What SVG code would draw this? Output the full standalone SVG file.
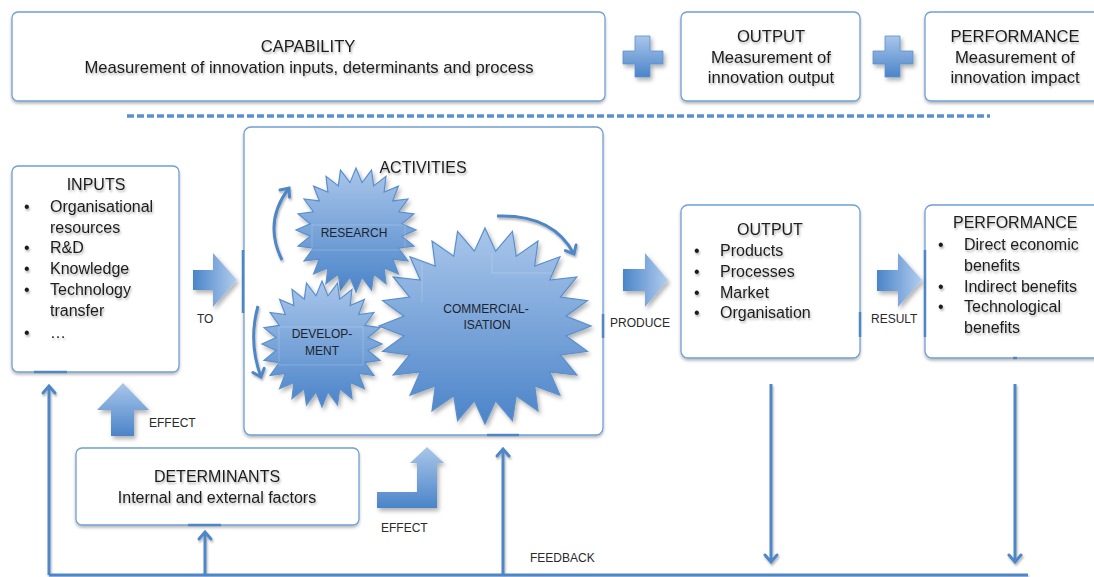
<svg xmlns="http://www.w3.org/2000/svg" xmlns:xlink="http://www.w3.org/1999/xlink" width="1094" height="577" viewBox="0 0 1094 577">
  <defs>
    <style>
      .box { fill: #ffffff; stroke: #6f9fd6; stroke-width: 1.3; }
      .t { font-family: "Liberation Sans", Arial, Helvetica, sans-serif; fill: #1e1e1e; }
      .h { font-size: 16px; }
      .ht { font-size: 16.6px; }
      .lbl { font-family: "Liberation Sans", Arial, Helvetica, sans-serif; font-size: 12px; fill: #2a2a2a; }
      .star-lbl { font-family: "Liberation Sans", Arial, Helvetica, sans-serif; font-size: 12px; fill: #1c2430; }
      .mid { text-anchor: middle; }
      .wire { fill: none; stroke: #4f86c6; stroke-width: 3; }
      .port { stroke: #4f86c6; stroke-width: 2.5; }
      .frame { fill: none; stroke: #ffffff; stroke-opacity: 0.2; stroke-width: 1; }
    </style>
    <filter id="boxShadow" x="-5%" y="-10%" width="110%" height="125%">
      <feDropShadow dx="0" dy="2" stdDeviation="1.5" flood-color="#000" flood-opacity="0.28"/>
    </filter>
    <filter id="textShadow" x="-5%" y="-30%" width="110%" height="170%">
      <feDropShadow dx="1" dy="2" stdDeviation="1.2" flood-color="#000" flood-opacity="0.3"/>
    </filter>
    <filter id="shapeShadow" x="-15%" y="-15%" width="135%" height="135%">
      <feDropShadow dx="2" dy="3" stdDeviation="2" flood-color="#000" flood-opacity="0.3"/>
    </filter>
    <linearGradient id="gradV" x1="0" y1="0" x2="0" y2="1">
      <stop offset="0" stop-color="#a9c6ea"/>
      <stop offset="1" stop-color="#4b84c9"/>
    </linearGradient>
    <linearGradient id="gradH" x1="0" y1="0" x2="1" y2="0">
      <stop offset="0" stop-color="#4a84c9"/>
      <stop offset="1" stop-color="#b2cdee"/>
    </linearGradient>
    <marker id="chev" viewBox="-10 -10 20 20" markerWidth="20" markerHeight="20" refX="0" refY="0" markerUnits="userSpaceOnUse" orient="auto" overflow="visible">
      <path d="M-7,-6 L0,0 L-7,6" fill="none" stroke="#4f86c6" stroke-width="3" stroke-linecap="round" stroke-linejoin="miter"/>
    </marker>
    <!-- 24-point star, outer radius 100, inner radius 77 -->
    <polygon id="star24" points="0,-100 10.05,-76.34 25.88,-96.59 29.47,-71.14 50,-86.6 46.87,-61.09 70.71,-70.71 61.09,-46.87 86.6,-50 71.14,-29.47 96.59,-25.88 76.34,-10.05 100,0 76.34,10.05 96.59,25.88 71.14,29.47 86.6,50 61.09,46.87 70.71,70.71 46.87,61.09 50,86.6 29.47,71.14 25.88,96.59 10.05,76.34 0,100 -10.05,76.34 -25.88,96.59 -29.47,71.14 -50,86.6 -46.87,61.09 -70.71,70.71 -61.09,46.87 -86.6,50 -71.14,29.47 -96.59,25.88 -76.34,10.05 -100,0 -76.34,-10.05 -96.59,-25.88 -71.14,-29.47 -86.6,-50 -61.09,-46.87 -70.71,-70.71 -46.87,-61.09 -50,-86.6 -29.47,-71.14 -25.88,-96.59 -10.05,-76.34" fill="url(#gradV)" stroke="#5a8fcd" stroke-width="1.2" vector-effect="non-scaling-stroke"/>
  </defs>

  <rect width="1094" height="577" fill="#ffffff"/>

  <!-- top row: measurement levels -->
  <g id="capability">
    <rect class="box" x="12" y="12" width="593" height="89" rx="6" filter="url(#boxShadow)"/>
    <g filter="url(#textShadow)">
      <text class="t ht mid" x="308" y="52">CAPABILITY</text>
      <text class="t ht mid" x="309" y="73">Measurement of innovation inputs, determinants and process</text>
    </g>
  </g>

  <g id="plus1" filter="url(#shapeShadow)">
    <path d="M635,36 H650 V51 H663 V64 H650 V77 H635 V64 H623 V51 H635 Z" fill="url(#gradV)" stroke="#5a8fcd" stroke-width="0.8"/>
  </g>

  <g id="output-measure">
    <rect class="box" x="681" y="12" width="179" height="89" rx="6" filter="url(#boxShadow)"/>
    <g filter="url(#textShadow)">
      <text class="t ht mid" x="771" y="42">OUTPUT</text>
      <text class="t ht mid" x="771" y="63">Measurement of</text>
      <text class="t ht mid" x="771" y="83">innovation output</text>
    </g>
  </g>

  <g id="plus2" filter="url(#shapeShadow)">
    <path d="M885,36 H900 V51 H913 V64 H900 V77 H885 V64 H873 V51 H885 Z" fill="url(#gradV)" stroke="#5a8fcd" stroke-width="0.8"/>
  </g>

  <g id="performance-measure">
    <rect class="box" x="925" y="12" width="200" height="89" rx="6" filter="url(#boxShadow)"/>
    <g filter="url(#textShadow)">
      <text class="t ht mid" x="1015" y="42">PERFORMANCE</text>
      <text class="t ht mid" x="1015" y="63">Measurement of</text>
      <text class="t ht mid" x="1015" y="83">innovation impact</text>
    </g>
  </g>

  <g id="divider">
    <line x1="127" y1="116" x2="990" y2="116" stroke="#5b90d0" stroke-width="3.5" stroke-dasharray="7 3"/>
  </g>

  <!-- process row -->
  <g id="inputs">
    <rect class="box" x="12" y="166" width="167" height="206" rx="6" filter="url(#boxShadow)"/>
    <g filter="url(#textShadow)">
      <text class="t h mid" x="96" y="190">INPUTS</text>
      <text class="t h" x="24" y="212">•</text>
      <text class="t h" x="50" y="212">Organisational</text>
      <text class="t h" x="50" y="233">resources</text>
      <text class="t h" x="24" y="253">•</text>
      <text class="t h" x="50" y="253">R&amp;D</text>
      <text class="t h" x="24" y="274">•</text>
      <text class="t h" x="50" y="274">Knowledge</text>
      <text class="t h" x="24" y="295">•</text>
      <text class="t h" x="50" y="295">Technology</text>
      <text class="t h" x="50" y="316">transfer</text>
      <text class="t h" x="24" y="338">•</text>
      <text class="t h" x="50" y="338">…</text>
    </g>
  </g>

  <g id="activities">
    <rect class="box" x="244" y="127" width="359" height="308" rx="7" filter="url(#boxShadow)"/>
    <text class="t h mid" x="423" y="173" filter="url(#textShadow)">ACTIVITIES</text>
    <g id="commercialisation">
      <g filter="url(#shapeShadow)">
        <use xlink:href="#star24" href="#star24" transform="translate(485 326) scale(1.06 0.98)"/>
      </g>
      <path class="frame" d="M422,263 V302 M492,253 V273 H552"/>
      <text class="star-lbl mid" x="486" y="313">COMMERCIAL-</text>
      <text class="star-lbl mid" x="487" y="329">ISATION</text>
    </g>
    <g id="research">
      <g filter="url(#shapeShadow)">
        <use xlink:href="#star24" href="#star24" transform="translate(356 230) scale(0.6 0.62)"/>
      </g>
      <rect class="frame" x="312" y="225" width="93" height="25"/>
      <text class="star-lbl mid" x="354" y="237">RESEARCH</text>
    </g>
    <g id="development">
      <g filter="url(#shapeShadow)">
        <use xlink:href="#star24" href="#star24" transform="translate(322 344) scale(0.6 0.63)"/>
      </g>
      <rect class="frame" x="279" y="327" width="84" height="38"/>
      <text class="star-lbl mid" x="322" y="338">DEVELOP-</text>
      <text class="star-lbl mid" x="322" y="355">MENT</text>
    </g>
    <g id="cycle-arrows" filter="url(#textShadow)">
      <path class="wire" d="M282,260 Q263,222 289,188" marker-end="url(#chev)"/>
      <path class="wire" d="M258,306 Q248,342 261,377" marker-end="url(#chev)"/>
      <path class="wire" d="M497,216 Q553,214 574,254" marker-end="url(#chev)"/>
    </g>
  </g>

  <g id="output">
    <rect class="box" x="681" y="205" width="179" height="153" rx="7" filter="url(#boxShadow)"/>
    <g filter="url(#textShadow)">
      <text class="t h mid" x="770" y="235">OUTPUT</text>
      <text class="t h" x="694" y="256">•</text>
      <text class="t h" x="720" y="256">Products</text>
      <text class="t h" x="694" y="277">•</text>
      <text class="t h" x="720" y="277">Processes</text>
      <text class="t h" x="694" y="298">•</text>
      <text class="t h" x="720" y="298">Market</text>
      <text class="t h" x="694" y="318">•</text>
      <text class="t h" x="720" y="318">Organisation</text>
    </g>
  </g>

  <g id="performance">
    <rect class="box" x="925" y="205" width="200" height="153" rx="7" filter="url(#boxShadow)"/>
    <g filter="url(#textShadow)">
      <text class="t h" x="953" y="228">PERFORMANCE</text>
      <text class="t h" x="938" y="250">•</text>
      <text class="t h" x="964" y="250">Direct economic</text>
      <text class="t h" x="964" y="271">benefits</text>
      <text class="t h" x="938" y="292">•</text>
      <text class="t h" x="964" y="292">Indirect benefits</text>
      <text class="t h" x="938" y="312">•</text>
      <text class="t h" x="964" y="312">Technological</text>
      <text class="t h" x="964" y="333">benefits</text>
    </g>
  </g>

  <g id="determinants">
    <rect class="box" x="76" y="448" width="283" height="77" rx="6" filter="url(#boxShadow)"/>
    <g filter="url(#textShadow)">
      <text class="t h mid" x="217" y="482">DETERMINANTS</text>
      <text class="t h mid" x="217" y="503">Internal and external factors</text>
    </g>
  </g>

  <!-- connectors -->
  <g id="connectors">
    <!-- block arrows -->
    <g filter="url(#shapeShadow)">
      <path d="M193,270 H213 V253 L237,280 L213,307 V290 H193 Z" fill="url(#gradH)"/>
      <path d="M623,269 H645 V253 L668,280 L645,307 V291 H623 Z" fill="url(#gradH)"/>
      <path d="M877,270 H898 V253 L922,280 L898,307 V291 H877 Z" fill="url(#gradH)"/>
      <path d="M111,436 V410 H97 L123,383 L149,410 H134 V436 Z" fill="url(#gradV)"/>
      <path d="M377,492 H417 V463 H410 L427,447 L444,463 H437 V508 H377 Z" fill="url(#gradV)"/>
    </g>
    <text class="lbl" x="197" y="323">TO</text>
    <text class="lbl" x="610" y="327">PRODUCE</text>
    <text class="lbl" x="871" y="323">RESULT</text>
    <text class="lbl" x="149" y="427">EFFECT</text>
    <text class="lbl" x="381" y="532">EFFECT</text>
    <text class="lbl" x="530" y="562">FEEDBACK</text>

    <!-- feedback loop -->
    <g filter="url(#textShadow)">
      <path class="wire" d="M49,575 H1028"/>
      <path class="wire" d="M49,575 V386" marker-end="url(#chev)"/>
      <path class="wire" d="M205,575 V532" marker-end="url(#chev)"/>
      <path class="wire" d="M503,575 V449" marker-end="url(#chev)"/>
      <path class="wire" d="M771,384 V562" marker-end="url(#chev)"/>
      <path class="wire" d="M1015,384 V562" marker-end="url(#chev)"/>
    </g>

    <!-- attachment points on box edges -->
    <line class="port" x1="34" y1="372" x2="67" y2="372"/>
    <line class="port" x1="243" y1="250" x2="243" y2="313"/>
    <line class="port" x1="487" y1="435" x2="519" y2="435"/>
    <line class="port" x1="603" y1="314" x2="603" y2="338"/>
    <line class="port" x1="860" y1="312" x2="860" y2="337"/>
    <line class="port" x1="925" y1="250" x2="925" y2="337"/>
    <line class="port" x1="1013" y1="358" x2="1017" y2="358"/>
    <line class="port" x1="188" y1="525" x2="221" y2="525"/>
  </g>
</svg>
